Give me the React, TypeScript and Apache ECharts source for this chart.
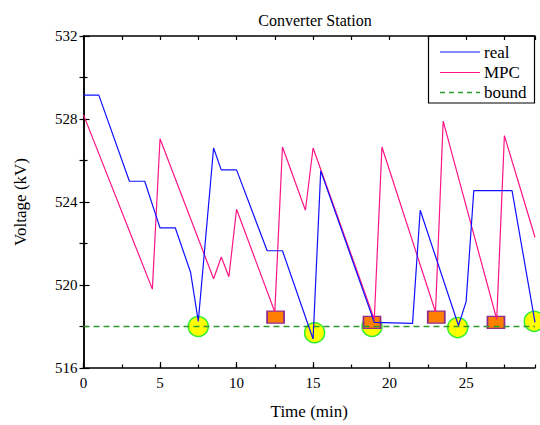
import React, { useEffect, useRef } from "react";
import * as echarts from "echarts";

const realTime = [0, 1, 3, 4, 5, 6, 7, 7.5, 8.5, 9, 10, 12, 13, 15, 15.5, 19, 21.5, 22, 24.5, 25, 25.5, 28, 29.5];
const realVoltage = [529.15, 529.15, 525, 525, 522.75, 522.75, 520.6, 518.25, 526.6, 525.55, 525.55, 521.65, 521.65, 517.4, 525.5, 518.2, 518.15, 523.6, 518.05, 519.2, 524.55, 524.55, 518.2];

const mpcTime = [0, 4.5, 5, 8.5, 9, 9.5, 10, 12.5, 13, 14.5, 15, 19, 19.5, 23, 23.5, 27, 27.5, 29.5];
const mpcVoltage = [528.2, 519.8, 527.05, 520.3, 521.35, 520.4, 523.65, 518.7, 526.65, 523.6, 526.6, 518.35, 526.65, 518.7, 527.9, 518.35, 527.2, 522.3];

const boundTime = [0, 29.5];
const boundVoltage = [518, 518];

const circleTime = [7.5, 15.1, 18.85, 24.45, 29.45];
const circleVoltage = [518, 517.7, 518, 517.95, 518.25];

const squareTime = [12.55, 18.85, 23.05, 26.95];
const squareVoltage = [518.45, 518.2, 518.45, 518.2];

const xMin = 0;
const xMax = 29.5;
const yMin = 516;
const yMax = 532;

const legendNames = ["real", "MPC", "bound"];

const FONT = "Liberation Serif";

const zip = (xs: number[], ys: number[]) => xs.map((x, i) => [x, ys[i]]);

export default function App() {
  const ref = useRef<HTMLDivElement>(null);
  useEffect(() => {
    if (!ref.current) return;
    const chart = echarts.init(ref.current, undefined, { renderer: "svg" });
    const axisLine = { show: true, lineStyle: { color: "#000", width: 1.5 } };
    const option: any = {
      animation: false,
      backgroundColor: "#fff",
      textStyle: { fontFamily: FONT },
      title: {
        text: "Converter Station",
        left: 310,
        textAlign: "center",
        top: 7,
        textStyle: { fontFamily: FONT, fontSize: 16, fontWeight: "normal", color: "#000" },
      },
      grid: { left: 83.5, right: 5, top: 36, bottom: 53.5, containLabel: false },
      xAxis: [
        {
          type: "value",
          position: "bottom",
          min: xMin,
          max: xMax,
          interval: 5,
          axisLine,
          axisTick: { show: true, inside: true, length: 6, lineStyle: { color: "#000", width: 1.2 } },
          axisLabel: {
            fontFamily: FONT,
            fontSize: 15,
            color: "#000",
            margin: 7,
            showMaxLabel: false,
            formatter: (v: number) => (v % 5 === 0 ? String(v) : ""),
          },
          splitLine: { show: false },
          name: "Time (min)",
          nameLocation: "middle",
          nameGap: 35,
          nameTextStyle: { fontFamily: FONT, fontSize: 17, fontWeight: "normal", color: "#000" },
        },
        {
          type: "value",
          position: "bottom",
          min: xMin,
          max: xMax,
          interval: 2.5,
          axisLine: { show: false },
          axisTick: { show: true, inside: true, length: 3.5, lineStyle: { color: "#000", width: 1.2 } },
          axisLabel: { show: false },
          splitLine: { show: false },
        },
        {
          type: "value",
          position: "top",
          min: xMin,
          max: xMax,
          interval: 2.5,
          axisLine,
          axisTick: { show: true, inside: true, length: 4, lineStyle: { color: "#000", width: 1.2 } },
          axisLabel: { show: false },
          splitLine: { show: false },
        },
      ],
      yAxis: [
        {
          type: "value",
          position: "left",
          min: yMin,
          max: yMax,
          interval: 4,
          axisLine,
          axisTick: { show: true, inside: true, length: 6, lineStyle: { color: "#000", width: 1.2 } },
          minorTick: { show: true, splitNumber: 2, length: 4, lineStyle: { color: "#000", width: 1.2 } },
          axisLabel: { fontFamily: FONT, fontSize: 15, color: "#000", margin: 6 },
          splitLine: { show: false },
          minorSplitLine: { show: false },
          name: "Voltage (kV)",
          nameLocation: "middle",
          nameGap: 55,
          nameTextStyle: { fontFamily: FONT, fontSize: 17, fontWeight: "normal", color: "#000" },
        },
        {
          type: "value",
          position: "right",
          min: yMin,
          max: yMax,
          interval: 2,
          axisLine,
          axisTick: { show: true, inside: true, length: 4, lineStyle: { color: "#000", width: 1.2 } },
          axisLabel: { show: false },
          splitLine: { show: false },
        },
      ],
      series: [
        {
          name: "circles",
          type: "scatter",
          z: 1,
          clip: false,
          symbol: "circle",
          symbolSize: 20,
          itemStyle: { color: "#FFFF00", borderColor: "#33EE33", borderWidth: 1.5, opacity: 1 },
          data: zip(circleTime, circleVoltage),
        },
        {
          name: "squares",
          type: "scatter",
          z: 1,
          clip: false,
          symbol: "rect",
          symbolSize: [17, 12],
          itemStyle: { color: "#FF8000", borderColor: "#912C8F", borderWidth: 1.5, opacity: 1 },
          data: zip(squareTime, squareVoltage),
        },
        {
          name: legendNames[2],
          type: "line",
          z: 3,
          showSymbol: false,
          symbol: "none",
          lineStyle: { color: "#2E9A2E", width: 1.5, type: [6, 4] },
          data: zip(boundTime, boundVoltage),
        },
        {
          name: legendNames[1],
          type: "line",
          z: 4,
          showSymbol: false,
          symbol: "none",
          lineStyle: { color: "#FF1485", width: 1.2 },
          data: zip(mpcTime, mpcVoltage),
        },
        {
          name: legendNames[0],
          type: "line",
          z: 5,
          showSymbol: false,
          symbol: "none",
          lineStyle: { color: "#1010FF", width: 1.2 },
          data: zip(realTime, realVoltage),
        },
      ],
      graphic: [
        {
          type: "group",
          z: 100,
          children: [
            {
              type: "rect",
              shape: { x: 428.5, y: 36, width: 106, height: 67 },
              style: { fill: "#fff", stroke: "#000", lineWidth: 1.2 },
            },
            { type: "line", shape: { x1: 440, y1: 52, x2: 480, y2: 52 }, style: { stroke: "#1010FF", lineWidth: 1.2 } },
            { type: "line", shape: { x1: 440, y1: 72.5, x2: 480, y2: 72.5 }, style: { stroke: "#FF1485", lineWidth: 1.2 } },
            { type: "line", shape: { x1: 440, y1: 92.5, x2: 480, y2: 92.5 }, style: { stroke: "#2E9A2E", lineWidth: 1.5, lineDash: [5, 4] } },
            { type: "text", x: 484, y: 52, style: { text: legendNames[0], fontFamily: FONT, fontSize: 17, fill: "#000", verticalAlign: "middle" } },
            { type: "text", x: 484, y: 72.5, style: { text: legendNames[1], fontFamily: FONT, fontSize: 17, fill: "#000", verticalAlign: "middle" } },
            { type: "text", x: 484, y: 92.5, style: { text: legendNames[2], fontFamily: FONT, fontSize: 17, fill: "#000", verticalAlign: "middle" } },
          ],
        },
      ],
    };
    chart.setOption(option);
    return () => chart.dispose();
  }, []);
  return <div ref={ref} style={{ position: "fixed", left: 0, top: 0, width: 540, height: 425 }} />;
}
